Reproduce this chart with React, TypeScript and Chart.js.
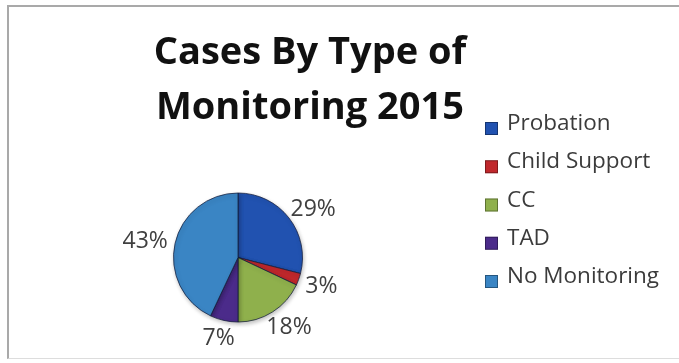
import React, { useEffect, useRef } from 'react';
import { Chart, registerables } from 'chart.js';

Chart.register(...registerables);

const TITLE_LINES = ['Cases By Type of', 'Monitoring 2015'];
const CATEGORIES = ['Probation', 'Child Support', 'CC', 'TAD', 'No Monitoring'];
const SHARES = [29, 3, 18, 7, 43];
const COLORS = ['#2152B0', '#C0282C', '#8FB04C', '#4B2B8A', '#3A85C4'];

const FONT = '"Open Sans", Lato, sans-serif';

const titlePlugin = {
  id: 'xlTitle',
  afterDraw(chart: any) {
    const ctx = chart.ctx;
    ctx.save();
    ctx.font = `bold 38px ${FONT}`;
    ctx.fillStyle = '#111111';
    ctx.textAlign = 'center';
    ctx.textBaseline = 'alphabetic';
    TITLE_LINES.forEach((t, i) => ctx.fillText(t, 310, 64 + i * 55));
    ctx.restore();
  },
};

const legendPlugin = {
  id: 'xlLegend',
  afterDraw(chart: any) {
    const ctx = chart.ctx;
    const labels = chart.data.labels as string[];
    const colors = chart.data.datasets[0].backgroundColor as string[];
    ctx.save();
    ctx.font = `22.5px ${FONT}`;
    ctx.textAlign = 'left';
    ctx.textBaseline = 'alphabetic';
    labels.forEach((lab, i) => {
      const base = 130 + i * 38.25;
      ctx.fillStyle = colors[i];
      ctx.fillRect(485, base - 8, 13, 13);
      ctx.strokeStyle = 'rgba(0,0,0,0.35)';
      ctx.lineWidth = 1;
      ctx.strokeRect(485.5, base - 7.5, 12, 12);
      ctx.fillStyle = '#3b3b3b';
      ctx.fillText(lab, 507, base);
    });
    ctx.restore();
  },
};

const labelPlugin = {
  id: 'xlLabels',
  afterDatasetsDraw(chart: any) {
    const ctx = chart.ctx;
    const meta = chart.getDatasetMeta(0);
    const data = chart.data.datasets[0].data as number[];
    const total = data.reduce((a, b) => a + b, 0);
    ctx.save();
    ctx.font = `23px ${FONT}`;
    ctx.fillStyle = '#404040';
    ctx.textAlign = 'center';
    ctx.textBaseline = 'alphabetic';
    meta.data.forEach((arc: any, i: number) => {
      const { x, y, startAngle, endAngle, outerRadius } = arc.getProps(
        ['x', 'y', 'startAngle', 'endAngle', 'outerRadius'],
        true
      );
      const mid = (startAngle + endAngle) / 2;
      const dx = Math.cos(mid);
      const dy = Math.sin(mid);
      const text = Math.round((data[i] / total) * 100) + '%';
      const w = ctx.measureText(text).width;
      const h = 17;
      const r = outerRadius + 8;
      const cx = x + dx * r + (dx * w) / 2;
      const cy = y + dy * r + (dy * h) / 2;
      ctx.fillText(text, cx, cy + 8);
    });
    ctx.restore();
  },
};

const shadowPlugin = {
  id: 'xlShadow',
  beforeDatasetsDraw(chart: any) {
    const ctx = chart.ctx;
    ctx.save();
    ctx.shadowColor = 'rgba(0,0,0,0.25)';
    ctx.shadowBlur = 4;
    ctx.shadowOffsetX = 1;
    ctx.shadowOffsetY = 2;
  },
  afterDatasetsDraw(chart: any) {
    chart.ctx.restore();
  },
};

export default function App() {
  const ref = useRef<HTMLCanvasElement | null>(null);

  useEffect(() => {
    if (!ref.current) return;
    const chart = new Chart(ref.current, {
      type: 'pie',
      data: {
        labels: CATEGORIES,
        datasets: [
          {
            data: SHARES,
            backgroundColor: COLORS,
            borderColor: 'rgba(20,30,60,0.75)',
            borderWidth: 1,
          },
        ],
      },
      options: {
        responsive: false,
        animation: false,
        layout: { padding: { left: 173, right: 376, top: 192, bottom: 40 } },
        plugins: {
          legend: { display: false },
          title: { display: false },
          tooltip: { enabled: false },
        },
      },
      plugins: [shadowPlugin, labelPlugin, titlePlugin, legendPlugin],
    });
    return () => chart.destroy();
  }, []);

  return (
    <div style={{ position: 'absolute', left: 0, top: 0, width: 679, height: 363, background: '#fff' }}>
      <div
        style={{
          position: 'absolute',
          left: 7,
          top: 5,
          width: 672,
          height: 354,
          boxSizing: 'border-box',
          borderLeft: '2px solid #a9a9a9',
          borderTop: '2px solid #a9a9a9',
          borderBottom: '1px solid #dddddd',
        }}
      />
      <canvas
        ref={ref}
        width={679}
        height={363}
        style={{ position: 'absolute', left: 0, top: 0, width: 679, height: 363, display: 'block' }}
      />
    </div>
  );
}
